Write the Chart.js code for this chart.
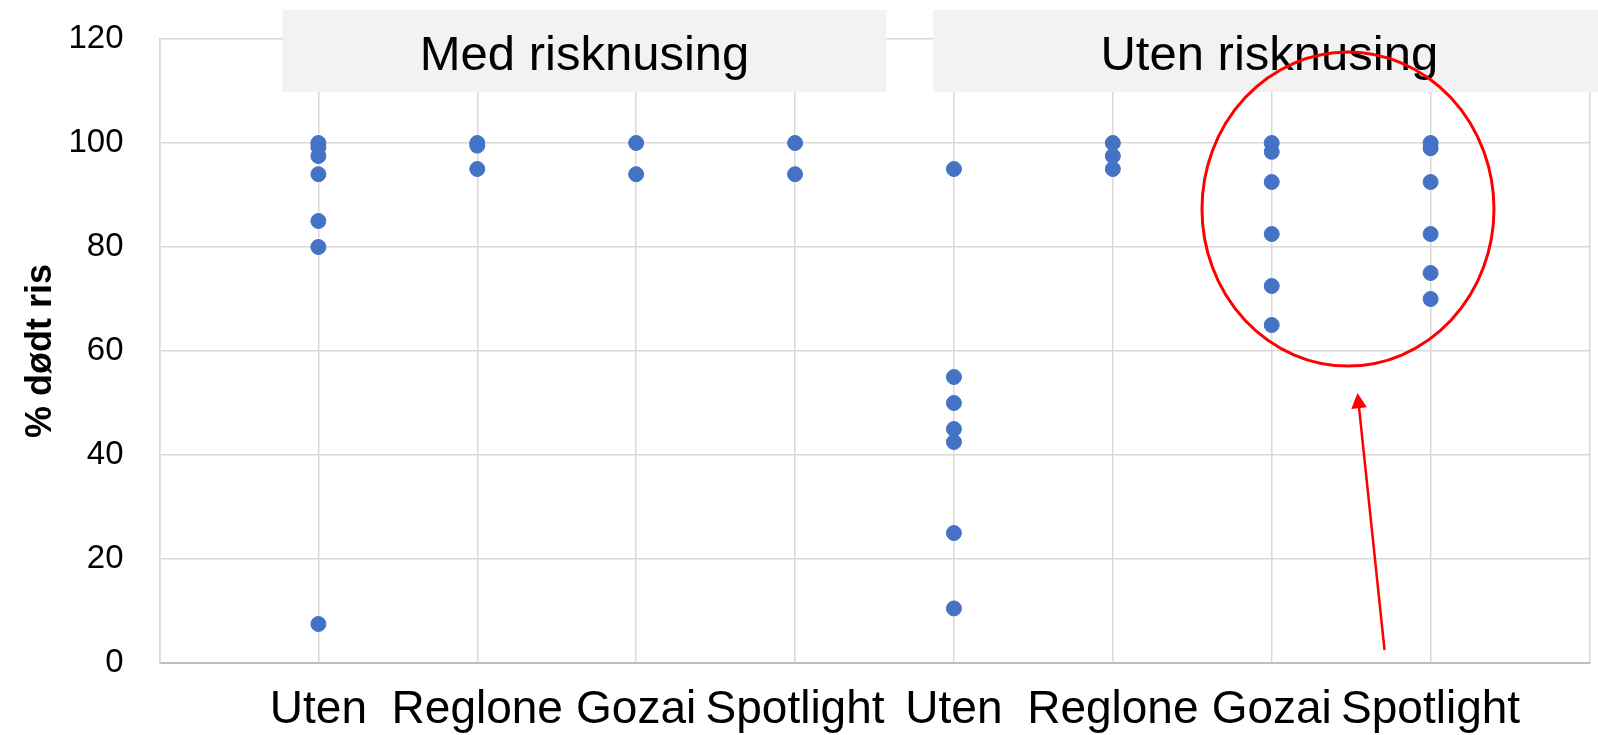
<!DOCTYPE html>
<html>
<head>
<meta charset="utf-8">
<script src="https://cdn.jsdelivr.net/npm/chart.js@4/dist/chart.umd.min.js"></script>
<style>
    html, body { margin: 0; padding: 0; background: #fff; }
    #wrap { width: 1598px; height: 735px; }
</style>
</head>
<body>
<div id="wrap"><canvas id="chartRis"></canvas></div>
<script>
    // kategorier langs x-aksen (posisjon 1..8)
    const kategorier = ['Uten', 'Reglone', 'Gozai', 'Spotlight', 'Uten', 'Reglone', 'Gozai', 'Spotlight'];
    const grupper = ['Med risknusing', 'Uten risknusing'];

    // % dødt ris per behandling
    const medUten = [100, 99.2, 97.5, 94, 85, 80, 7.5];
    const medReglone = [100, 99.5, 95];
    const medGozai = [100, 94];
    const medSpotlight = [100, 94];
    const utenUten = [95, 55, 50, 45, 42.5, 25, 10.5];
    const utenReglone = [100, 97.5, 95];
    const utenGozai = [100, 98.3, 92.5, 82.5, 72.5, 65];
    const utenSpotlight = [100, 99, 92.5, 82.5, 75, 70];

    const serier = [medUten, medReglone, medGozai, medSpotlight, utenUten, utenReglone, utenGozai, utenSpotlight];
    const yMax = 120;
    const yStep = 20;

    const punkter = serier.flatMap((verdier, i) => verdier.map(v => ({ x: i + 1, y: v })));

    const font = "'Liberation Sans', Arial, sans-serif";
    const gridFarge = '#d9d9d9';

    new Chart(document.getElementById('chartRis'), {
        type: 'scatter',
        data: {
            datasets: [{
                data: punkter,
                backgroundColor: '#4472c4',
                borderColor: '#4472c4',
                pointRadius: 7.5,
                pointHoverRadius: 7.5
            }]
        },
        options: {
            responsive: true,
            maintainAspectRatio: false,
            animation: false,
            layout: { padding: { top: 39, right: 0, bottom: 0, left: 0 } },
            plugins: {
                legend: { display: false },
                tooltip: { enabled: false }
            },
            scales: {
                x: {
                    type: 'linear',
                    min: 0,
                    max: kategorier.length + 1,
                    afterFit(scale) {
                        scale.height = 72;
                        scale.paddingLeft = 0;
                        scale.paddingRight = 0;
                    },
                    afterBuildTicks(scale) {
                        scale.ticks = [];
                        for (let i = 0; i <= kategorier.length + 1; i++) scale.ticks.push({ value: i });
                    },
                    ticks: {
                        padding: 20,
                        maxRotation: 0,
                        autoSkip: false,
                        color: '#000',
                        font: { family: font, size: 46 },
                        callback: (v) => kategorier[v - 1] || ''
                    },
                    grid: { color: gridFarge, lineWidth: 1.5, drawTicks: false },
                    border: { color: '#bfbfbf', width: 2 }
                },
                y: {
                    min: 0,
                    max: yMax,
                    afterFit(scale) {
                        scale.width = 159.5;
                        scale.paddingTop = 0;
                        scale.paddingBottom = 0;
                    },
                    ticks: {
                        stepSize: yStep,
                        padding: 36,
                        color: '#000',
                        font: { family: font, size: 33 }
                    },
                    grid: { color: gridFarge, lineWidth: 1.5, drawTicks: false },
                    border: { color: gridFarge, width: 1.5 },
                    title: {
                        display: true,
                        text: '% dødt ris',
                        color: '#000',
                        font: { family: font, size: 36, weight: 'bold' },
                        padding: { top: 19, bottom: 0 }
                    }
                }
            }
        },
        plugins: [{
            id: 'gruppeBokser',
            afterDraw(chart) {
                const { ctx, scales: { x, y } } = chart;
                ctx.save();

                // grå bokser med gruppenavn
                const bokser = [[0.775, 4.575], [4.87, 9.1]];
                const yTopp = y.getPixelForValue(125.6);
                const yBunn = y.getPixelForValue(109.8);
                bokser.forEach(([fra, til], i) => {
                    const x1 = x.getPixelForValue(fra);
                    const x2 = x.getPixelForValue(til);
                    ctx.fillStyle = '#f2f2f2';
                    ctx.fillRect(x1, yTopp, x2 - x1, yBunn - yTopp);
                    ctx.fillStyle = '#000';
                    ctx.font = `49px ${font}`;
                    ctx.textAlign = 'center';
                    ctx.textBaseline = 'alphabetic';
                    ctx.fillText(grupper[i], (x1 + x2) / 2, yTopp + 60);
                });

                // rød ring rundt Gozai / Spotlight
                ctx.strokeStyle = '#ff0000';
                ctx.lineWidth = 3;
                ctx.beginPath();
                ctx.ellipse(x.getPixelForValue(7.48), y.getPixelForValue(87.3), 146, 157, 0, 0, Math.PI * 2);
                ctx.stroke();

                // pil
                const ax1 = x.getPixelForValue(7.71), ay1 = y.getPixelForValue(2.5);
                const ax2 = x.getPixelForValue(7.54), ay2 = y.getPixelForValue(51.9);
                const vinkel = Math.atan2(ay2 - ay1, ax2 - ax1);
                const hode = 17;
                ctx.lineWidth = 2.5;
                ctx.beginPath();
                ctx.moveTo(ax1, ay1);
                ctx.lineTo(ax2 - Math.cos(vinkel) * hode * 0.8, ay2 - Math.sin(vinkel) * hode * 0.8);
                ctx.stroke();
                ctx.fillStyle = '#ff0000';
                ctx.beginPath();
                ctx.moveTo(ax2, ay2);
                ctx.lineTo(ax2 - hode * Math.cos(vinkel - 0.48), ay2 - hode * Math.sin(vinkel - 0.48));
                ctx.lineTo(ax2 - hode * Math.cos(vinkel + 0.48), ay2 - hode * Math.sin(vinkel + 0.48));
                ctx.closePath();
                ctx.fill();

                ctx.restore();
            }
        }]
    });
</script>
</body>
</html>
